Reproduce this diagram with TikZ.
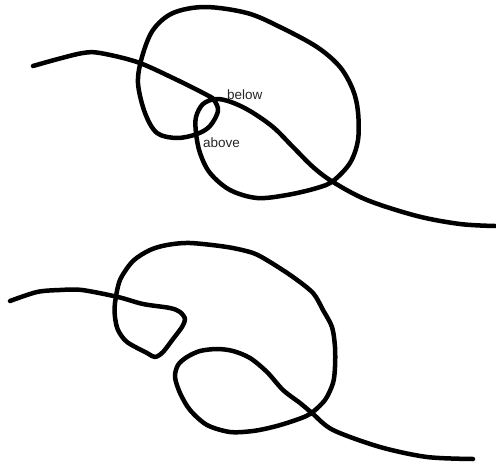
\documentclass[tikz,border=0pt]{standalone}
\usepackage{fontspec}
\setmainfont{Liberation Sans}
\tikzset{
  knot/.style={line width=4.5pt, line cap=round, line join=round, black},
  lbl/.style={inner sep=0pt, anchor=base west, font=\fontsize{13.5}{16}\selectfont, text=black!85}
}
\begin{document}
\begin{tikzpicture}[x=1pt,y=-1pt]
\useasboundingbox (0,0) rectangle (496,466);
% upper curve
\draw[knot] plot[smooth, tension=0.55] coordinates {
 (33,66) (58,59) (83,53) (100,53) (137,62) (173,78) (207,95) (214,100)
 (218,111) (210,126) (197,134) (177,138) (157,133) (145,113) (138,83)
 (142,57) (153,30) (173,13) (205,7) (247,13) (280,27) (317,47) (340,67)
 (353,90) (358,112) (358,140) (350,163) (333,181) (317,188) (287,195)
 (257,198) (230,190) (210,173) (200,153) (196,133) (196,117) (203,104)
 (216,99) (231,102) (250,111) (273,127) (293,147) (313,167) (333,182)
 (367,200) (417,216) (460,224) (495,226)};
\node[lbl] (below) at (227,99.5) {below};
\node[lbl] (above) at (203,147.5) {above};
% lower curve
\draw[knot] plot[smooth, tension=0.5] coordinates {
 (10,301) (37,292) (60,290) (82,290) (118,297) (143,304) (170,308)
 (180,312) (185,319) (182,327) (173,339) (163,352) (155,357) (147,353)
 (127,342) (118,330) (115,317) (115,303) (120,280) (133,261) (150,250)
 (167,245) (190,243) (227,247) (253,253) (270,262) (293,277) (313,293)
 (323,310) (332,327) (335,347) (335,367) (333,383) (325,400) (310,414)
 (293,421) (273,427) (253,431) (230,432) (207,425) (190,410) (180,393)
 (175,377) (178,365) (187,357) (200,351) (217,349) (233,351) (250,358)
 (267,372) (283,390) (300,403) (312,413) (333,430) (380,447) (427,457)
 (473,459)};
\end{tikzpicture}
\end{document}
